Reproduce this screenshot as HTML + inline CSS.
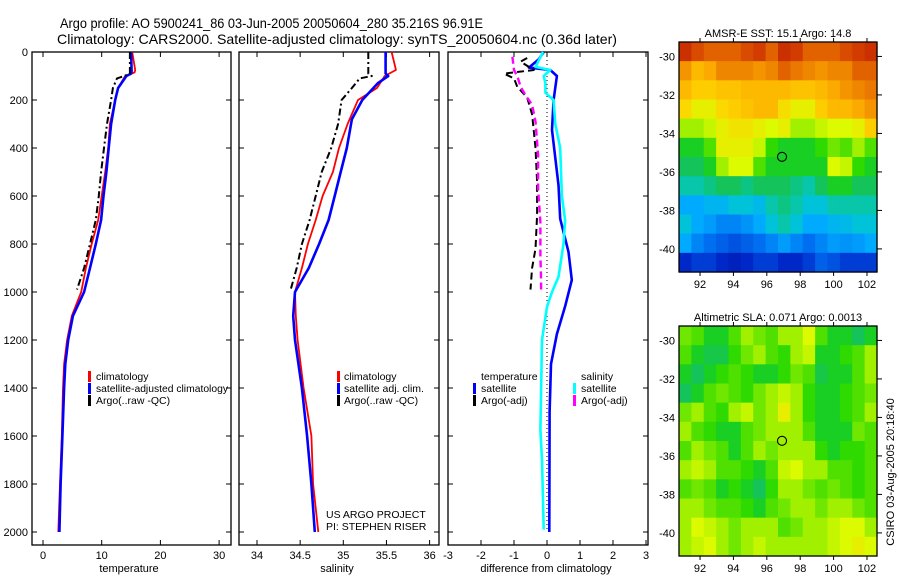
<!DOCTYPE html>
<html><head><meta charset="utf-8"><style>
body{margin:0;background:#fff;}
svg{display:block;font-family:"Liberation Sans",sans-serif;}
text{fill:#000;}
</style></head><body>
<svg id="fig" width="900" height="580" viewBox="0 0 900 580">
<text x="60" y="28" font-size="14" textLength="423" lengthAdjust="spacingAndGlyphs">Argo profile: AO 5900241_86 03-Jun-2005 20050604_280 35.216S 96.91E</text>
<text x="57" y="44" font-size="14" textLength="560" lengthAdjust="spacingAndGlyphs">Climatology: CARS2000. Satellite-adjusted climatology: synTS_20050604.nc (0.36d later)</text>
<text x="778" y="37" font-size="11" text-anchor="middle">AMSR-E SST: 15.1 Argo: 14.8</text>
<text x="778" y="321" font-size="11" text-anchor="middle">Altimetric SLA: 0.071 Argo: 0.0013</text>
<text transform="translate(894,472) rotate(-90)" font-size="11" text-anchor="middle">CSIRO 03-Aug-2005 20:18:40</text>
<g id="layer"></g>
</svg>
<script>
// ---- data ----
const depthTicks=[0,200,400,600,800,1000,1200,1400,1600,1800,2000];
const tempTicks=[0,10,20,30];
const salTicks=[34,34.5,35,35.5,36];
const salTickLabels=["34","34.5","35","35.5","36"];
const diffTicks=[-3,-2,-1,0,1,2,3];
const tClimD=[0,75,85,100,150,200,300,400,500,600,700,800,900,1000,1100,1200,1300,1400,1600,1800,2000];
const tClimV=[15.2,15.7,15.6,14.0,12.8,12.3,11.4,11.1,10.6,10.0,9.4,8.3,7.3,6.5,4.9,4.1,3.6,3.4,3.2,2.9,2.6];
const tSatD=[0,80,90,100,150,200,300,400,500,600,700,800,900,1000,1100,1200,1300,1400,1600,1800,2000];
const tSatV=[15.0,15.1,15.0,14.2,12.8,12.3,11.6,11.2,10.8,10.3,9.9,9.0,8.0,7.0,5.1,4.3,3.8,3.6,3.3,3.0,2.8];
const tArgoD=[0,90,100,110,150,200,300,400,500,600,700,800,900,990];
const tArgoV=[14.8,14.8,13.8,12.6,11.9,11.6,10.9,10.4,9.9,9.5,9.0,8.0,7.0,5.8];
const sClimD=[0,60,75,100,150,200,300,400,500,600,700,800,900,1000,1100,1200,1400,1600,1800,2000];
const sClimV=[35.56,35.6,35.61,35.48,35.39,35.17,35.05,34.95,34.88,34.76,34.68,34.59,34.52,34.44,34.45,34.47,34.54,34.63,34.65,34.71];
const sSatD=[0,90,100,130,200,280,400,500,600,700,800,900,1000,1100,1200,1400,1600,1800,2000];
const sSatV=[35.49,35.49,35.52,35.4,35.22,35.1,35.04,34.97,34.9,34.83,34.72,34.6,34.44,34.42,34.44,34.52,34.58,34.63,34.67];
const sArgoD=[0,90,100,110,150,200,300,400,500,600,700,800,900,990];
const sArgoV=[35.29,35.29,35.33,35.19,35.1,34.98,34.94,34.86,34.75,34.68,34.61,34.52,34.46,34.39];
const dTSatD=[0,30,65,75,100,200,325,555,695,833,950,1060,1175,1300,1500,2000];
const dTSatV=[-0.1,-0.25,-0.55,0.1,0.3,0.2,0.15,0.35,0.4,0.65,0.75,0.55,0.3,0.12,0.08,0.07];
const dSSatD=[0,62,75,100,130,170,200,300,400,600,700,800,937,1000,1062,1200,1575,1700,1990];
const dSSatV=[-0.12,-0.35,0.1,-0.1,-0.05,-0.05,0.2,0.25,0.4,0.45,0.55,0.5,0.35,0.15,0.0,-0.15,-0.2,-0.15,-0.1];
const dTArgoD=[25,40,75,90,110,145,190,260,400,540,680,820,900,990];
const dTArgoV=[-0.6,-0.8,-0.4,-1.3,-1.0,-0.9,-0.6,-0.45,-0.35,-0.3,-0.3,-0.35,-0.45,-0.5];
const dSArgoD=[20,75,100,145,180,220,290,430,570,710,850,950,990];
const dSArgoV=[-1.05,-1.0,-0.9,-0.8,-0.65,-0.45,-0.35,-0.27,-0.27,-0.2,-0.2,-0.18,-0.18];
const lonTicks=[92,94,96,98,100,102];
const latTicks=[-30,-32,-34,-36,-38,-40];
const argoLon=96.91, argoLat=-35.216;
const sstGrid=[
[0.92,0.88,0.85,0.85,0.85,0.88,0.9,0.85,0.92,0.9,0.85,0.85,0.85,0.88,0.9,0.92],
[0.78,0.72,0.75,0.8,0.8,0.8,0.78,0.8,0.85,0.82,0.8,0.78,0.8,0.8,0.85,0.85],
[0.72,0.68,0.68,0.7,0.7,0.72,0.72,0.72,0.72,0.7,0.7,0.72,0.75,0.78,0.8,0.82],
[0.66,0.62,0.62,0.66,0.68,0.7,0.72,0.72,0.65,0.62,0.62,0.68,0.72,0.72,0.75,0.78],
[0.55,0.55,0.58,0.62,0.64,0.64,0.62,0.6,0.62,0.55,0.55,0.58,0.6,0.6,0.62,0.68],
[0.45,0.45,0.5,0.62,0.62,0.62,0.58,0.48,0.45,0.45,0.45,0.48,0.52,0.5,0.55,0.5],
[0.42,0.42,0.45,0.55,0.6,0.6,0.5,0.45,0.45,0.45,0.45,0.45,0.6,0.58,0.48,0.45],
[0.38,0.38,0.4,0.42,0.42,0.4,0.42,0.42,0.42,0.4,0.38,0.42,0.45,0.45,0.42,0.42],
[0.3,0.3,0.32,0.32,0.35,0.35,0.33,0.38,0.4,0.38,0.35,0.35,0.38,0.38,0.38,0.38],
[0.35,0.3,0.28,0.25,0.25,0.27,0.3,0.35,0.38,0.35,0.3,0.3,0.32,0.33,0.35,0.35],
[0.3,0.25,0.22,0.2,0.18,0.2,0.22,0.25,0.28,0.25,0.22,0.25,0.28,0.27,0.28,0.3],
[0.12,0.15,0.15,0.12,0.1,0.12,0.15,0.15,0.12,0.12,0.15,0.2,0.18,0.15,0.15,0.15]];
const slaGrid=[
[0.52,0.5,0.45,0.45,0.5,0.55,0.52,0.5,0.55,0.55,0.6,0.5,0.45,0.45,0.42,0.45],
[0.5,0.45,0.43,0.43,0.48,0.52,0.55,0.5,0.48,0.55,0.58,0.45,0.45,0.48,0.5,0.55],
[0.45,0.42,0.45,0.48,0.5,0.48,0.45,0.45,0.48,0.52,0.5,0.43,0.45,0.45,0.5,0.55],
[0.42,0.45,0.5,0.52,0.5,0.48,0.52,0.55,0.58,0.55,0.48,0.45,0.45,0.48,0.5,0.52],
[0.52,0.55,0.5,0.48,0.55,0.58,0.52,0.55,0.62,0.55,0.48,0.45,0.45,0.48,0.5,0.55],
[0.55,0.5,0.48,0.45,0.45,0.5,0.52,0.55,0.55,0.55,0.5,0.45,0.45,0.45,0.52,0.5],
[0.5,0.55,0.52,0.5,0.45,0.5,0.55,0.52,0.55,0.55,0.55,0.48,0.45,0.48,0.48,0.5],
[0.55,0.58,0.55,0.5,0.5,0.48,0.45,0.5,0.58,0.6,0.55,0.55,0.5,0.5,0.48,0.5],
[0.5,0.52,0.5,0.45,0.48,0.45,0.42,0.48,0.55,0.55,0.52,0.5,0.52,0.5,0.48,0.5],
[0.55,0.55,0.52,0.5,0.5,0.48,0.45,0.5,0.52,0.55,0.55,0.52,0.55,0.55,0.52,0.5],
[0.55,0.6,0.58,0.55,0.52,0.55,0.55,0.55,0.5,0.52,0.55,0.55,0.58,0.6,0.6,0.55],
[0.55,0.58,0.6,0.55,0.52,0.55,0.58,0.55,0.55,0.55,0.55,0.55,0.58,0.6,0.62,0.6]];

// ---- helpers ----
const NS="http://www.w3.org/2000/svg";
const layer=document.getElementById('layer');
function mk(tag,attrs,parent){const e=document.createElementNS(NS,tag);for(const k in attrs)e.setAttribute(k,attrs[k]);(parent||layer).appendChild(e);return e;}
const Y0=52, YS=0.24;
function yD(d){return Y0+d*YS;}
function lin(v0,x0,scale){return v=>x0+(v-v0)*scale;}
const xT=lin(0,43,5.87), xS=lin(34,257,86.3), xDf=lin(0,547,33);

function panel(x0,x1,name){
  const r=mk('rect',{x:x0,y:Y0,width:x1-x0,height:545-Y0,fill:'none',stroke:'#000','stroke-width':1.3});
  
  
  depthTicks.forEach(d=>{
    mk('line',{x1:x0,x2:x0+5,y1:yD(d),y2:yD(d),stroke:'#000'});
    mk('line',{x1:x1,x2:x1-5,y1:yD(d),y2:yD(d),stroke:'#000'});
  });
}
function xticks(ticks,labels,fx,name){
  ticks.forEach((v,i)=>{
    mk('line',{x1:fx(v),x2:fx(v),y1:545,y2:540,stroke:'#000'});
    mk('line',{x1:fx(v),x2:fx(v),y1:Y0,y2:Y0+5,stroke:'#000'});
    const t=mk('text',{x:fx(v),y:559,'font-size':11,'text-anchor':'middle'});
    t.textContent=labels[i];
    
    
  });
}
function line(ds,vs,fx,style,name){
  const pts=ds.map((d,i)=>fx(vs[i]).toFixed(1)+','+yD(d).toFixed(1)).join(' ');
  const p=mk('polyline',Object.assign({points:pts,fill:'none','stroke-linejoin':'round'},style));
  
  
}
function label(x,y,txt,name,anchor,fs){
  const t=mk('text',{x:x,y:y,'font-size':fs||11,'text-anchor':anchor||'start'});
  t.textContent=txt;
  
  
  return t;
}
function legBar(x,y,color,name){
  const r=mk('rect',{x:x,y:y-9,width:3,height:11,fill:color});
  
  
}

// depth labels
depthTicks.forEach(d=>label(28,yD(d)+4,String(d),'depth-tick-label','end'));

// panel 1
panel(32,231,'temperature-panel');
xticks(tempTicks,tempTicks.map(String),xT,'temperature');
line(tClimD,tClimV,xT,{stroke:'#f00','stroke-width':1.8},'temperature-climatology-line');
line(tSatD,tSatV,xT,{stroke:'#00f','stroke-width':2.6},'temperature-satellite-line');
line(tArgoD,tArgoV,xT,{stroke:'#000','stroke-width':2,'stroke-dasharray':'7,3,2,3'},'temperature-argo-line');
label(129,572,'temperature','temperature-axis-title','middle');
legBar(88,380,'#f00','legend-climatology-swatch');label(96,380,'climatology','legend-climatology','start',10.5);
legBar(88,392,'#00f','legend-satellite-swatch');
const ls=label(96,392,'satellite-adjusted climatology','legend-satellite','start',10.5);
ls.setAttribute('textLength','132');ls.setAttribute('lengthAdjust','spacingAndGlyphs');
legBar(88,404,'#000','legend-argo-swatch');label(96,404,'Argo(..raw -QC)','legend-argo','start',10.5);

// panel 2
panel(239,439,'salinity-panel');
xticks(salTicks,salTickLabels,xS,'salinity');
line(sClimD,sClimV,xS,{stroke:'#f00','stroke-width':1.8},'salinity-climatology-line');
line(sSatD,sSatV,xS,{stroke:'#00f','stroke-width':2.6},'salinity-satellite-line');
line(sArgoD,sArgoV,xS,{stroke:'#000','stroke-width':2,'stroke-dasharray':'7,3,2,3'},'salinity-argo-line');
label(337,572,'salinity','salinity-axis-title','middle');
legBar(337,380,'#f00','legend2-climatology-swatch');label(344,380,'climatology','legend2-climatology','start',10.5);
legBar(337,392,'#00f','legend2-satellite-swatch');label(344,392,'satellite adj. clim.','legend2-satellite','start',10.5);
legBar(337,404,'#000','legend2-argo-swatch');label(344,404,'Argo(..raw -QC)','legend2-argo','start',10.5);
label(326,518,'US ARGO PROJECT','project-credit','start',10.5);
label(326,530,'PI: STEPHEN RISER','pi-credit','start',10.5);

// panel 3
panel(448,648,'difference-panel');
xticks(diffTicks,diffTicks.map(String),xDf,'difference');
const zl=mk('line',{x1:xDf(0),x2:xDf(0),y1:Y0,y2:yD(2000),stroke:'#000','stroke-dasharray':'1,3'});


line(dTSatD,dTSatV,xDf,{stroke:'#00f','stroke-width':2.6},'temperature-diff-satellite-line');
line(dSSatD,dSSatV,xDf,{stroke:'#0ff','stroke-width':2.6},'salinity-diff-satellite-line');
line(dTArgoD,dTArgoV,xDf,{stroke:'#000','stroke-width':2,'stroke-dasharray':'7,4'},'temperature-diff-argo-line');
line(dSArgoD,dSArgoV,xDf,{stroke:'#f0f','stroke-width':2.4,'stroke-dasharray':'7,4'},'salinity-diff-argo-line');
label(546,572,'difference from climatology','difference-axis-title','middle');
label(481,380,'temperature','legend3-temperature-header','start',10.5);
legBar(473,392,'#00f','legend3-tsat-swatch');label(481,392,'satellite','legend3-tsat','start',10.5);
legBar(473,404,'#000','legend3-targo-swatch');label(481,404,'Argo(-adj)','legend3-targo','start',10.5);
label(581,380,'salinity','legend3-salinity-header','start',10.5);
legBar(573,392,'#0ff','legend3-ssat-swatch');label(581,392,'satellite','legend3-ssat','start',10.5);
legBar(573,404,'#f0f','legend3-sargo-swatch');label(581,404,'Argo(-adj)','legend3-sargo','start',10.5);

// maps
const stops=[[0,[0,0,130]],[0.12,[0,40,200]],[0.22,[0,110,240]],[0.3,[0,170,255]],[0.36,[0,200,210]],[0.42,[20,195,90]],[0.47,[30,215,0]],[0.55,[160,240,0]],[0.6,[220,250,0]],[0.67,[255,210,0]],[0.75,[250,170,0]],[0.82,[235,120,0]],[0.9,[210,60,0]],[1,[170,0,0]]];
function cmap(v){
  for(let i=1;i<stops.length;i++){if(v<=stops[i][0]){const a=stops[i-1],b=stops[i],t=(v-a[0])/(b[0]-a[0]);
    return 'rgb('+a[1].map((c,k)=>Math.round(c+(b[1][k]-c)*t)).join(',')+')';}}
  return 'rgb(170,0,0)';
}
function map(top,grid,name){
  const L=679,R=877,B=top+230;
  const lonL=90.74,lonR=102.6,latT=-29.25,latB=-41.2;
  const fx=v=>L+(v-lonL)/(lonR-lonL)*(R-L), fy=v=>top+(v-latT)/(latB-latT)*(B-top);
  const g=mk('g',{});
  
  
  const rows=grid.length,cols=grid[0].length,cw=(R-L)/cols,ch=(B-top)/rows;
  grid.forEach((row,r)=>row.forEach((v,c)=>{
    const cell=mk('rect',{x:(L+c*cw).toFixed(2),y:(top+r*ch).toFixed(2),width:(cw+0.6).toFixed(2),height:(ch+0.6).toFixed(2),fill:cmap(v)},g);
    
    
  }));
  mk('rect',{x:L,y:top,width:R-L,height:B-top,fill:'none',stroke:'#000','stroke-width':1.3});
  lonTicks.forEach(v=>{
    mk('line',{x1:fx(v),x2:fx(v),y1:top,y2:top-4,stroke:'#000'});
    mk('line',{x1:fx(v),x2:fx(v),y1:B,y2:B+4,stroke:'#000'});
    label(fx(v),B+16,String(v),name+'-lon-label','middle');
  });
  latTicks.forEach(v=>{
    mk('line',{x1:R,x2:R+5,y1:fy(v),y2:fy(v),stroke:'#000'});
    label(675,fy(v)+4,String(v),name+'-lat-label','end');
  });
  const c=mk('circle',{cx:fx(argoLon),cy:fy(argoLat),r:4.5,fill:'none',stroke:'#000','stroke-width':1.1});
  
  
}
map(42,sstGrid,'sst-map');
map(326,slaGrid,'sla-map');
</script>
</body></html>
